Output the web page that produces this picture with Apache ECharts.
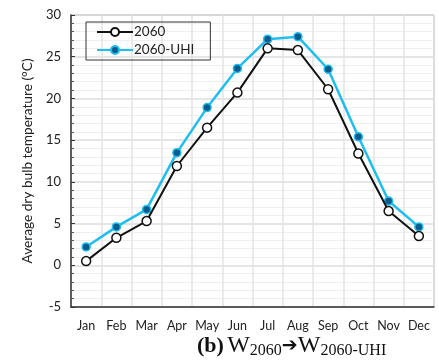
<!DOCTYPE html>
<html><head><meta charset="utf-8">
<script src="https://cdn.jsdelivr.net/npm/echarts@6/dist/echarts.min.js"></script>
<style>html,body{margin:0;padding:0;background:#fff}#c{width:439px;height:360px}</style>
</head><body><div id="c"></div>
<script>
const months = ['Jan','Feb','Mar','Apr','May','Jun','Jul','Aug','Sep','Oct','Nov','Dec'];
const s2060 = [0.5, 3.3, 5.3, 11.9, 16.5, 20.7, 26.0, 25.8, 21.1, 13.4, 6.5, 3.5];
const s2060UHI = [2.2, 4.6, 6.7, 13.5, 18.9, 23.6, 27.1, 27.4, 23.5, 15.4, 7.7, 4.6];
const yTicks = {min: -5, max: 30, step: 5};

const chart = echarts.init(document.getElementById('c'), null, {renderer: 'canvas'});
const font = 'Lato, "Open Sans", sans-serif';
chart.setOption({
  animation: false,
  backgroundColor: '#fff',
  grid: {left: 71, right: 5, top: 15, bottom: 53, show: true, borderColor: '#8c8c8c', borderWidth: 1},
  legend: {
    orient: 'vertical', left: 86, top: 22, itemGap: 4, itemWidth: 36, itemHeight: 10,
    padding: [3, 16, 3, 10], borderColor: '#333', borderWidth: 1,
    textStyle: {fontFamily: font, fontSize: 13.5, color: '#222', padding: [0,0,0,-4]},
    data: ['2060', '2060-UHI']
  },
  xAxis: {
    type: 'category', data: months, boundaryGap: true,
    axisLine: {onZero: false, lineStyle: {color: '#333', width: 1.5}},
    axisTick: {inside: true, length: 4, lineStyle: {color: '#333'}},
    axisLabel: {interval: 0, fontFamily: font, fontSize: 12.5, color: '#222', margin: 12},
    splitLine: {show: true, interval: 0, lineStyle: {color: '#e3e3e3', width: 1.5}}
  },
  yAxis: {
    type: 'value', min: yTicks.min, max: yTicks.max, interval: yTicks.step,
    name: 'Average dry bulb temperature (°C)', nameLocation: 'middle', nameGap: 35,
    nameTextStyle: {fontFamily: font, fontSize: 13.7, color: '#222'},
    axisLine: {show: true, lineStyle: {color: '#333', width: 1.5}},
    axisTick: {show: true, inside: true, length: 4, lineStyle: {color: '#333'}},
    minorTick: {show: true, splitNumber: 5, length: 3, lineStyle: {color: '#555'}},
    axisLabel: {fontFamily: font, fontSize: 13, color: '#222', margin: 10},
    splitLine: {show: true, lineStyle: {color: '#dcdcdc', width: 1.5}},
    minorSplitLine: {show: true, lineStyle: {color: '#efefef', width: 1}}
  },
  series: [
    {
      name: '2060-UHI', type: 'line', data: s2060UHI, z: 2,
      symbol: 'circle', symbolSize: 8,
      lineStyle: {color: '#1ebef0', width: 2.5},
      itemStyle: {color: '#0b5c8c', borderColor: '#1ebef0', borderWidth: 1.5}
    },
    {
      name: '2060', type: 'line', data: s2060, z: 3,
      symbol: 'circle', symbolSize: 9,
      lineStyle: {color: '#111', width: 2},
      itemStyle: {color: '#fff', borderColor: '#111', borderWidth: 1.5}
    }
  ],
  graphic: [{
    type: 'text', left: 197, top: 334,
    style: {
      text: '{b|(b)} {w|W}{s|2060}{a|➔}{w|W}{s|2060-UHI}',
      rich: {
        b: {fontFamily: '"Liberation Serif", serif', fontWeight: 'bold', fontSize: 22, fill: '#111'},
        w: {fontFamily: '"Liberation Serif", serif', fontSize: 24, fill: '#111'},
        s: {fontFamily: '"Liberation Serif", serif', fontSize: 16, fill: '#111', padding: [9,0,0,0]},
        a: {fontFamily: '"DejaVu Sans", sans-serif', fontSize: 19, fill: '#111'}
      }
    }
  }]
});
</script></body></html>
